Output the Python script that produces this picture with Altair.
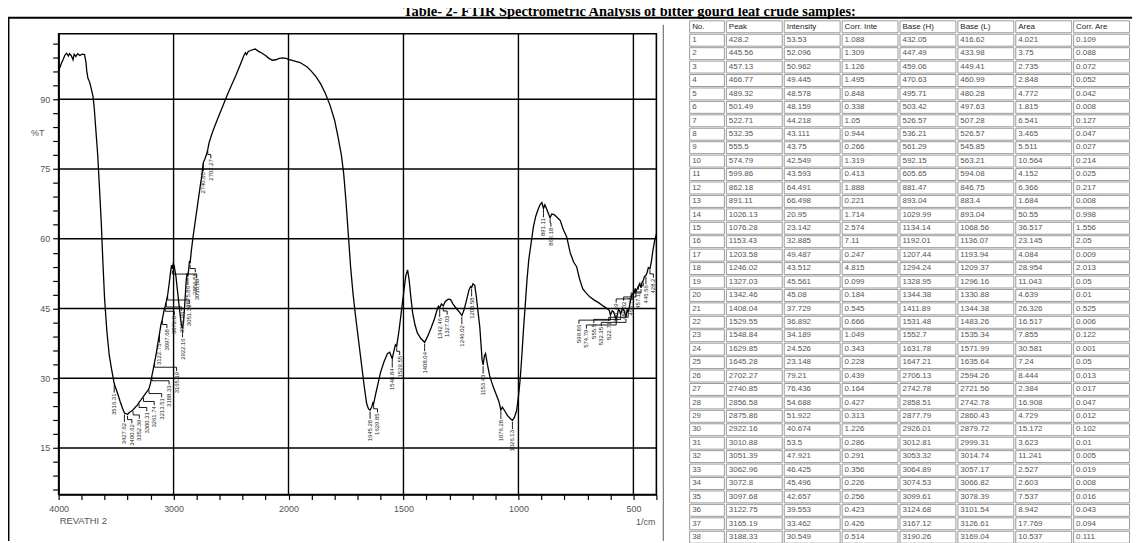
import altair as alt
import pandas as pd

# ---------------- spectrum (wavenumber 1/cm, %T) ----------------
spec_wn = [4000, 3990, 3975, 3960, 3945, 3930, 3915, 3905, 3890, 3875, 3865, 3850, 3835, 3815, 3795, 3775,
           3762, 3755, 3745, 3735, 3725, 3700, 3690, 3675, 3660, 3645, 3630, 3615, 3600, 3580, 3560, 3540,
           3525, 3516.31, 3505, 3485, 3465, 3445, 3427.62, 3415, 3400.62, 3390, 3375, 3362, 3352.39, 3335,
           3315, 3300.31, 3285, 3261.74, 3245, 3228, 3213.51, 3200, 3188.33, 3178, 3165.19, 3150, 3135,
           3122.75, 3110, 3097.68, 3085, 3072.8, 3067, 3062.96, 3057, 3051.39, 3040, 3028, 3018, 3010.88,
           3003, 2995, 2980, 2960, 2940, 2930, 2922.16, 2912, 2900, 2890, 2882, 2875.86, 2868, 2862,
           2856.58, 2845, 2830, 2810, 2790, 2770, 2755, 2745, 2740.85, 2730, 2715, 2702.27, 2690, 2660,
           2620, 2580, 2540, 2500, 2460, 2420, 2390, 2375, 2365, 2350, 2320, 2290, 2260, 2230, 2200, 2170,
           2140, 2110, 2080, 2050, 2020, 2000, 1980, 1950, 1920, 1900, 1880, 1860, 1840, 1820, 1800, 1785,
           1770, 1760, 1750, 1740, 1730, 1720, 1710, 1700, 1690, 1680, 1670, 1660, 1652, 1645.28, 1638,
           1633, 1629.85, 1620, 1610, 1600, 1585, 1570, 1560, 1548.84, 1540, 1535, 1529.55, 1520, 1510,
           1500, 1490, 1482, 1475, 1468, 1460, 1450, 1440, 1425, 1408.04, 1395, 1380, 1365, 1355, 1348,
           1342.46, 1335, 1327.03, 1318, 1305, 1295, 1285, 1270, 1255, 1246.02, 1238, 1228, 1215, 1208,
           1203.58, 1198, 1190, 1183, 1175, 1168, 1163, 1158, 1153.43, 1148, 1143, 1135, 1125, 1110, 1095,
           1085, 1076.28, 1070, 1060, 1048, 1035, 1026.13, 1018, 1008, 1000, 992, 985, 978, 970, 963, 955,
           945, 935, 925, 913, 905, 898, 891.11, 885, 878, 870, 862.18, 855, 845, 830, 818, 805, 790, 775,
           760, 747, 735, 720, 705, 690, 670, 650, 630, 615, 605, 599.86, 592, 585, 574.79, 565, 560,
           555.5, 548, 540, 532.35, 527, 522.71, 515, 508, 501.49, 496, 492, 489.32, 480, 472, 466.77, 462,
           457.13, 452, 445.56, 440, 435, 428.2, 422, 415, 408, 400]
spec_t = [96.0, 96.8, 97.8, 98.6, 99.5, 99.9, 99.3, 99.8, 99.4, 98.5, 99.7, 99.2, 99.8, 99.4, 99.7, 99.6,
          98.0, 96.0, 94.5, 94.0, 93.2, 90.5, 88.0, 83.0, 78.0, 71.0, 64.0, 55.0, 47.0, 40.0, 35.0, 32.0,
          30.0, 28.8, 28.0, 26.6, 25.0, 23.6, 22.5, 22.4, 22.2, 22.5, 22.8, 23.0, 23.2, 23.7,
          24.2, 24.8, 25.3, 26.1, 26.7, 27.2, 27.8, 29.0, 30.549, 31.8, 33.462, 35.4, 37.8,
          39.553, 41.5, 42.657, 44.4, 45.496, 46.2, 46.425, 47.3, 47.921, 50.0, 52.5, 54.3, 53.5,
          54.6, 54.2, 52.0, 47.5, 43.0, 41.2, 40.674, 42.5, 47.0, 51.0, 52.6, 51.922, 53.5, 55.2,
          54.688, 57.5, 60.5, 64.0, 67.5, 71.0, 73.5, 75.6, 76.436, 77.0, 78.0, 79.21, 80.8, 83.0,
          85.6, 88.0, 90.5, 92.8, 95.0, 97.4, 99.3, 100.0, 99.6, 100.3, 100.6, 100.8, 100.3, 99.9, 99.4, 98.8,
          98.4, 98.5, 98.8, 98.9, 98.8, 98.6, 98.3, 97.9, 97.0, 96.0, 94.8, 93.3, 91.3, 88.8, 85.6, 82.0,
          78.0, 74.0, 68.0, 61.0, 54.0, 48.5, 44.0, 40.0, 36.0, 32.0, 28.0, 24.5, 23.4, 23.148, 23.8,
          24.7, 24.526, 26.8, 29.0, 31.2, 33.5, 35.3, 35.6, 34.189, 36.2, 37.2, 36.892, 40.0, 44.0,
          48.0, 52.0, 53.3, 51.0, 47.5, 44.0, 41.5, 39.8, 38.6, 37.729, 39.0, 40.8, 42.8, 44.5, 45.5,
          45.08, 46.0, 45.561, 46.5, 47.0, 46.9, 46.0, 45.0, 44.1, 43.512, 44.5, 46.3, 49.0, 49.7,
          49.487, 50.3, 50.0, 47.5, 44.0, 41.0, 37.5, 34.0, 32.885, 34.8, 35.3, 33.0, 30.5, 28.2, 26.3,
          25.0, 23.142, 23.8, 23.0, 22.0, 21.3, 20.95, 21.5, 23.0, 26.0, 30.0, 35.0, 40.5, 46.0, 51.0, 55.5,
          59.0, 62.5, 64.8, 66.5, 67.4, 67.8, 66.498, 67.3, 66.5, 65.5, 64.491, 65.3, 65.2, 64.5, 63.9, 62.0, 60.4, 57.0,
          55.0, 54.0, 51.5, 49.2, 48.3, 47.5, 46.8, 46.2, 45.5, 45.0, 44.6, 43.593, 44.5, 44.2, 42.549, 44.8, 44.5,
          43.75, 45.0, 44.5, 43.111, 44.8, 44.218, 46.0, 47.8, 48.159, 48.4, 49.3, 48.578, 49.6, 50.4, 49.445, 50.7,
          50.962, 51.9, 52.096, 52.8, 53.8, 53.53, 55.0, 57.5, 59.5, 61.0]

# ---------------- peak table (as printed) ----------------
tbl_header = ["No.", "Peak", "Intensity", "Corr. Inte", "Base (H)", "Base (L)", "Area", "Corr. Are"]
tbl_no = ["1", "2", "3", "4", "5", "6", "7", "8", "9", "10", "11", "12", "13", "14", "15", "16", "17", "18", "19",
          "20", "21", "22", "23", "24", "25", "26", "27", "28", "29", "30", "31", "32", "33", "34", "35", "36",
          "37", "38"]
tbl_peak = ["428.2", "445.56", "457.13", "466.77", "489.32", "501.49", "522.71", "532.35", "555.5", "574.79",
            "599.86", "862.18", "891.11", "1026.13", "1076.28", "1153.43", "1203.58", "1246.02", "1327.03",
            "1342.46", "1408.04", "1529.55", "1548.84", "1629.85", "1645.28", "2702.27", "2740.85", "2856.58",
            "2875.86", "2922.16", "3010.88", "3051.39", "3062.96", "3072.8", "3097.68", "3122.75", "3165.19",
            "3188.33"]
tbl_int = ["53.53", "52.096", "50.962", "49.445", "48.578", "48.159", "44.218", "43.111", "43.75", "42.549",
           "43.593", "64.491", "66.498", "20.95", "23.142", "32.885", "49.487", "43.512", "45.561", "45.08",
           "37.729", "36.892", "34.189", "24.526", "23.148", "79.21", "76.436", "54.688", "51.922", "40.674",
           "53.5", "47.921", "46.425", "45.496", "42.657", "39.553", "33.462", "30.549"]
tbl_corr_int = ["1.088", "1.309", "1.126", "1.495", "0.848", "0.338", "1.05", "0.944", "0.266", "1.319", "0.413",
                "1.888", "0.221", "1.714", "2.574", "7.11", "0.247", "4.815", "0.099", "0.184", "0.545", "0.666",
                "1.049", "0.343", "0.228", "0.439", "0.164", "0.427", "0.313", "1.226", "0.286", "0.291", "0.356",
                "0.226", "0.256", "0.423", "0.426", "0.514"]
tbl_base_h = ["432.05", "447.49", "459.06", "470.63", "495.71", "503.42", "526.57", "536.21", "561.29", "592.15",
              "605.65", "881.47", "893.04", "1029.99", "1134.14", "1192.01", "1207.44", "1294.24", "1328.95",
              "1344.38", "1411.89", "1531.48", "1552.7", "1631.78", "1647.21", "2706.13", "2742.78", "2858.51",
              "2877.79", "2926.01", "3012.81", "3053.32", "3064.89", "3074.53", "3099.61", "3124.68", "3167.12",
              "3190.26"]
tbl_base_l = ["416.62", "433.98", "449.41", "460.99", "480.28", "497.63", "507.28", "526.57", "545.85", "563.21",
              "594.08", "846.75", "883.4", "893.04", "1068.56", "1136.07", "1193.94", "1209.37", "1296.16",
              "1330.88", "1344.38", "1483.26", "1535.34", "1571.99", "1635.64", "2594.26", "2721.56", "2742.78",
              "2860.43", "2879.72", "2999.31", "3014.74", "3057.17", "3066.82", "3078.39", "3101.54", "3126.61",
              "3169.04"]
tbl_area = ["4.021", "3.75", "2.735", "2.848", "4.772", "1.815", "6.541", "3.465", "5.511", "10.564", "4.152",
            "6.366", "1.684", "50.55", "36.517", "23.145", "4.084", "28.954", "11.043", "4.639", "26.326",
            "16.517", "7.855", "30.581", "7.24", "8.444", "2.384", "16.908", "4.729", "15.172", "3.623", "11.241",
            "2.527", "2.603", "7.537", "8.942", "17.769", "10.537"]
tbl_corr_area = ["0.109", "0.088", "0.072", "0.052", "0.042", "0.008", "0.127", "0.047", "0.027", "0.214", "0.025",
                 "0.217", "0.008", "0.998", "1.556", "2.05", "0.009", "2.013", "0.05", "0.01", "0.525", "0.006",
                 "0.122", "0.001", "0.05", "0.013", "0.017", "0.047", "0.012", "0.102", "0.01", "0.005", "0.019",
                 "0.008", "0.016", "0.043", "0.094", "0.111"]

# further labelled peaks of the spectrum (rows cut off below the visible table, estimated)
extra_peak_wn = [3516.31, 3427.62, 3400.62, 3352.39, 3300.31, 3261.74, 3213.51]
extra_peak_t = [28.8, 22.5, 22.2, 23.2, 24.8, 26.1, 27.8]

# axis ticks
x_major = [4000, 3000, 2000, 1500, 1000, 500]
x_ticks = [4000, 3800, 3600, 3400, 3200, 3000, 2800, 2600, 2400, 2200, 2000, 1900, 1800, 1700, 1600, 1500,
           1400, 1300, 1200, 1100, 1000, 900, 800, 700, 600, 500, 400]
y_ticks = [6, 9, 12, 15, 18, 21, 24, 27, 30, 33, 36, 39, 42, 45, 48, 51, 54, 57, 60, 63, 66, 69, 72, 75, 78,
           81, 84, 87, 90, 93, 96, 99, 102]
v_grid = [3000, 2000, 1500, 1000, 500]
h_grid = [15, 30, 45, 60, 75, 90]

# ---------------- layout ----------------
W, H = 602, 464
X_DOM = [4000, 2000, 400]
X_RNG = [0, 231.5, 602]
Y_DOM = [5, 104.1]
FONT = "Liberation Sans"


def wn_to_px(w):
    if w >= X_DOM[1]:
        return X_RNG[0] + (X_DOM[0] - w) * (X_RNG[1] - X_RNG[0]) / (X_DOM[0] - X_DOM[1])
    return X_RNG[1] + (X_DOM[1] - w) * (X_RNG[2] - X_RNG[1]) / (X_DOM[1] - X_DOM[2])


def px_to_wn(p):
    if p <= X_RNG[1]:
        return X_DOM[0] - (p - X_RNG[0]) * (X_DOM[0] - X_DOM[1]) / (X_RNG[1] - X_RNG[0])
    return X_DOM[1] - (p - X_RNG[1]) * (X_DOM[1] - X_DOM[2]) / (X_RNG[2] - X_RNG[1])


# peak labels: spread horizontally where they would collide
peaks = [(float(p), float(i), p) for p, i in zip(tbl_peak, tbl_int)]
peaks += [(w, t, f"{w:.2f}") for w, t in zip(extra_peak_wn, extra_peak_t)]
peaks.sort(key=lambda r: -r[0])
GAP, LBL_LEN = 7.5, 5.6
lx = []
for i, (w, t, _) in enumerate(peaks):
    p = wn_to_px(w)
    if i and abs(t - peaks[i - 1][1]) < LBL_LEN and p - lx[-1] < GAP:
        p = lx[-1] + GAP
    lx.append(p)
for i in range(len(lx) - 1, -1, -1):
    if lx[i] > W - 3:
        lx[i] = W - 3
    if i < len(lx) - 1 and abs(peaks[i][1] - peaks[i + 1][1]) < LBL_LEN and lx[i] > lx[i + 1] - GAP:
        lx[i] = lx[i + 1] - GAP

lead_rows, lbl_rows = [], []
for k, ((w, t, s), p) in enumerate(zip(peaks, lx)):
    lw = px_to_wn(p)
    for seq, (ww, tt) in enumerate([(w, t - 0.3), (w, t - 1.1), (lw, t - 1.1), (lw, t - 1.9)]):
        lead_rows.append({"pid": k, "seq": seq, "wn": ww, "T": tt})
    lbl_rows.append({"wn": lw, "T": t - 2.1, "lbl": s})

spec_df = pd.DataFrame({"wn": spec_wn, "T": spec_t, "i": range(len(spec_wn))})
lead_df = pd.DataFrame(lead_rows)
lbl_df = pd.DataFrame(lbl_rows)

x_scale = alt.Scale(domain=X_DOM, range=X_RNG, nice=False, zero=False)
y_scale = alt.Scale(domain=Y_DOM, nice=False, zero=False)
x_axis = alt.Axis(values=x_ticks, format="d", title=None, grid=False,
                  labelExpr="indexof(" + str(x_major) + ", datum.value) >= 0 ? datum.label : ''",
                  tickSize=5, tickColor="black", tickWidth=1.2, domainColor="black", domainWidth=1.5,
                  labelFont=FONT, labelFontSize=9, labelColor="#555", labelPadding=5,
                  labelOverlap=False, labelFlush=False)
y_axis = alt.Axis(values=y_ticks, format="d", title=None, grid=False,
                  labelExpr="datum.value % 15 === 0 ? datum.label : ''",
                  tickSize=6, tickColor="black", tickWidth=1.2, domainColor="black", domainWidth=1.5,
                  labelFont=FONT, labelFontSize=9, labelColor="#555", labelPadding=3, labelOverlap=False)
X = alt.X("wn:Q", scale=x_scale, axis=x_axis)
Y = alt.Y("T:Q", scale=y_scale, axis=y_axis)

vgrid = alt.Chart(pd.DataFrame({"wn": v_grid})).mark_rule(color="black", strokeWidth=1.4).encode(x=X)
hgrid = alt.Chart(pd.DataFrame({"T": h_grid})).mark_rule(color="black", strokeWidth=1.4).encode(y=Y)
curve = alt.Chart(spec_df).mark_line(color="black", strokeWidth=1.3).encode(x=X, y=Y, order="i:Q")
leaders = alt.Chart(lead_df).mark_line(color="black", strokeWidth=0.9).encode(
    x=X, y=Y, detail="pid:N", order="seq:Q")
labels = alt.Chart(lbl_df).mark_text(angle=270, align="right", baseline="middle", fontSize=6,
                                     font=FONT, color="#222").encode(x=X, y=Y, text="lbl:N")
spectrum = alt.layer(vgrid, hgrid, curve, leaders, labels)

# ---------------- table ----------------
cells = []
columns = [tbl_no, tbl_peak, tbl_int, tbl_corr_int, tbl_base_h, tbl_base_l, tbl_area, tbl_corr_area]
for c, h in enumerate(tbl_header):
    cells.append({"row": 0, "col": c, "txt": h, "hdr": 1})
for c, colvals in enumerate(columns):
    for r, v in enumerate(colvals):
        cells.append({"row": r + 1, "col": c, "txt": v, "hdr": 0})
cell_df = pd.DataFrame(cells)

tx_scale = alt.Scale(domain=[0, 1, 8], range=[634, 671, 1079], nice=False, zero=False)
ty_scale = alt.Scale(domain=[0, 39], range=[-14, 513.6], nice=False, zero=False)

cell_base = alt.Chart(cell_df).transform_calculate(col2="datum.col + 1", row2="datum.row + 1",
                                                   rowm="datum.row + 0.5")
boxes = cell_base.mark_rect(fill="white", stroke="#9a9a9a", strokeWidth=1, xOffset=1.5, x2Offset=-0.5,
                            yOffset=1, y2Offset=-0.5).encode(
    x=alt.X("col:Q", scale=tx_scale, axis=None), x2="col2:Q",
    y=alt.Y("row:Q", scale=ty_scale, axis=None), y2="row2:Q")
texts = cell_base.mark_text(align="left", baseline="middle", dx=4, fontSize=8, font=FONT).encode(
    x=alt.X("col:Q", scale=tx_scale, axis=None),
    y=alt.Y("rowm:Q", scale=ty_scale, axis=None),
    text="txt:N",
    color=alt.condition("datum.hdr == 1", alt.value("#222"), alt.value("#555")))
table = alt.layer(boxes, texts)

# ---------------- annotations / frame ----------------
one = pd.DataFrame({"a": [0]})
title_txt = alt.Chart(pd.DataFrame({"t": ["Table- 2- FTIR Spectrometric Analysis of bitter gourd leaf crude samples:"]})
                      ).mark_text(font="Liberation Serif", fontSize=14.5, fontWeight="bold", align="center",
                                  baseline="alphabetic", color="black").encode(
    x=alt.value(575), y=alt.value(-18), text="t:N")
pct_txt = alt.Chart(pd.DataFrame({"t": ["%T"]})).mark_text(font=FONT, fontSize=9, color="#555",
                                                          align="center", baseline="middle").encode(
    x=alt.value(-21), y=alt.value(100), text="t:N")
rev_txt = alt.Chart(pd.DataFrame({"t": ["REVATHI 2"]})).mark_text(font=FONT, fontSize=9.5, color="#555",
                                                                 align="left", baseline="middle").encode(
    x=alt.value(1), y=alt.value(491), text="t:N")
cm_txt = alt.Chart(pd.DataFrame({"t": ["1/cm"]})).mark_text(font=FONT, fontSize=9, color="#555",
                                                           align="right", baseline="middle").encode(
    x=alt.value(601), y=alt.value(492), text="t:N")
top_line = alt.Chart(one).mark_rule(color="black", strokeWidth=2).encode(
    x=alt.value(-51), x2=alt.value(1081), y=alt.value(-16))
left_line = alt.Chart(one).mark_rule(color="black", strokeWidth=2.5).encode(
    x=alt.value(-50.8), y=alt.value(-16), y2=alt.value(511))
right_line = alt.Chart(one).mark_rule(color="#777", strokeWidth=1.2).encode(
    x=alt.value(609), y=alt.value(-9), y2=alt.value(511))

chart = alt.layer(spectrum, table, title_txt, pct_txt, rev_txt, cm_txt, top_line, left_line, right_line
                  ).resolve_scale(x="independent", y="independent").properties(
    width=W, height=H, autosize=alt.AutoSizeParams(type="none"),
    padding={"left": 51, "top": 24, "right": 479, "bottom": 47},
    background="white"
).configure_view(stroke="black", strokeWidth=1.6)

chart.save("out.html", embed_options={"renderer": "svg", "actions": False})
